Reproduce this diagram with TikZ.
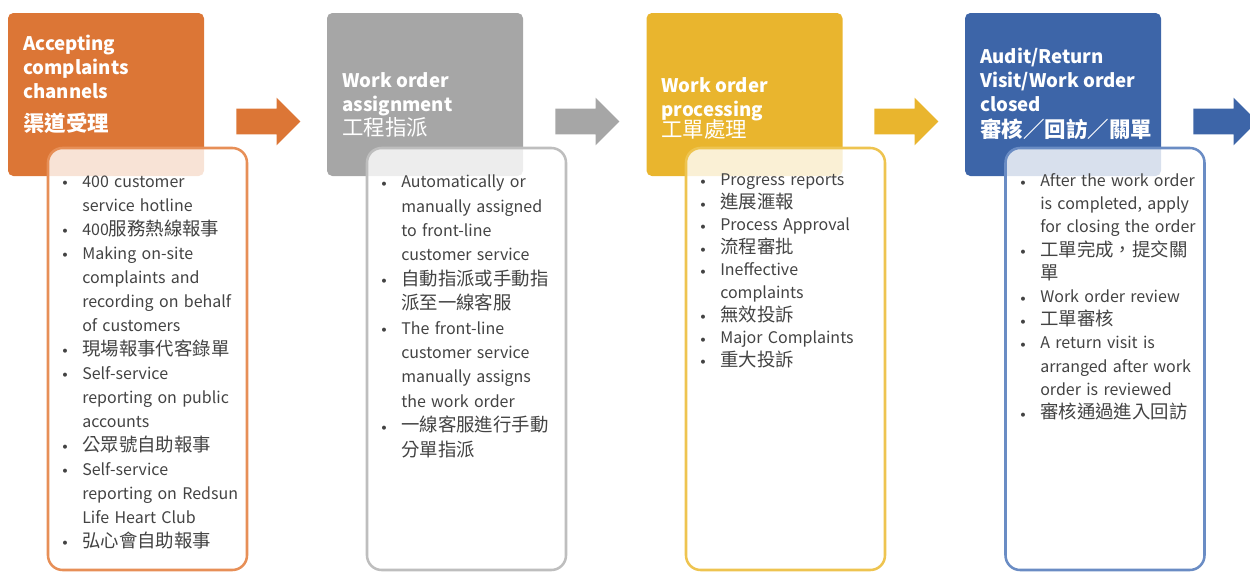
\documentclass[tikz,border=0pt]{standalone}
\usepackage{fontspec}
\setmainfont{Noto Sans CJK TC}
\newfontfamily\cjkfont{Noto Sans CJK TC}[Scale=1.15]
\usetikzlibrary{shapes.arrows}

\definecolor{stepone}{RGB}{220,118,54}
\definecolor{steponeline}{RGB}{231,143,87}
\definecolor{steptwo}{RGB}{166,166,166}
\definecolor{steptwoline}{RGB}{190,190,190}
\definecolor{stepthree}{RGB}{233,181,46}
\definecolor{stepthreeline}{RGB}{238,196,80}
\definecolor{stepfour}{RGB}{61,101,168}
\definecolor{stepfourline}{RGB}{106,140,196}
\definecolor{bodygray}{RGB}{67,67,67}

% one bullet item of a list box
\newcommand\bitem[1]{\par\noindent\hangindent=15pt\hangafter=1%
    \makebox[15pt][l]{\raisebox{1pt}{\scriptsize$\bullet$}}{\let\\\newline #1}}
% Chinese text
\newcommand\zh[1]{{\cjkfont #1}}

\begin{document}
\begin{tikzpicture}[
            x=0.75pt, y=-0.75pt,
            headbox/.style={
                rectangle,
                rounded corners=4pt,
                minimum width=147pt,
                minimum height=122.25pt,
                inner sep=0pt
            },
            listbox/.style={
                rectangle,
                rounded corners=11pt,
                line width=1.9pt,
                fill=white,
                fill opacity=0.8,
                minimum width=149.25pt,
                minimum height=316.5pt,
                inner sep=0pt
            },
            headtext/.style={
                anchor=north west,
                align=left,
                text=white,
                inner sep=0pt,
                font=\bfseries\fontsize{14pt}{18pt}\selectfont
            },
            listtext/.style={
                anchor=north west,
                text width=170pt,
                align=left,
                text=bodygray,
                inner sep=0pt
            },
            blockarrow/.style={
                single arrow,
                anchor=tail,
                single arrow head extend=8.25pt,
                minimum height=48pt,
                inner xsep=0pt,
                inner ysep=9.375pt
            }
        ]
        \useasboundingbox (0,0) rectangle (1250,572);
        \clip (0,0) rectangle (1250,572);

        % Coloured step boxes
        \node[headbox, fill=stepone] (h1) at (106,94.5) {};
        \node[headbox, fill=steptwo] (h2) at (425,94.5) {};
        \node[headbox, fill=stepthree] (h3) at (744.5,94.5) {};
        \node[headbox, fill=stepfour] (h4) at (1063,94.5) {};

        % List boxes, lying half over the step boxes
        \node[listbox, draw=steponeline] (l1) at (147.5,359) {};
        \node[listbox, draw=steptwoline] (l2) at (466.5,359) {};
        \node[listbox, draw=stepthreeline] (l3) at (785.5,359) {};
        \node[listbox, draw=stepfourline] (l4) at (1105,359) {};

        % Step titles
        \node[headtext] (t1) at (23,35) {Accepting\\complaints\\channels\\[6.75pt]\zh{渠道受理}};
        \node[headtext] (t2) at (342,72) {Work order\\assignment\\{\mdseries\zh{工程指派}}};
        \node[headtext] (t3) at (661,77) {Work order\\processing\\[-2.25pt]{\mdseries\zh{工單處理}}};
        \node[headtext] (t4) at (980,48) {Audit/Return\\Visit/Work order\\closed\\[1.5pt]\zh{審核／回訪／關單}};

        % Arrows between the steps
        \node[blockarrow, fill=stepone] (a1) at (236,121.5) {};
        \node[blockarrow, fill=steptwo] (a2) at (555,121.5) {};
        \node[blockarrow, fill=stepthree] (a3) at (874,121.5) {};
        \node[blockarrow, fill=stepfour] (a4) at (1193,121.5) {};

        % Items of list 1
        \node[listtext, font=\fontsize{12pt}{18pt}\selectfont] (i1) at (62,163) {%
            \bitem{400 customer\\service hotline}
            \bitem{400\zh{服務熱線報事}}
            \bitem{Making on-site\\complaints and\\recording on behalf\\of customers}
            \bitem{\zh{現場報事代客錄單}}
            \bitem{Self-service\\reporting on public\\accounts}
            \bitem{\zh{公眾號自助報事}}
            \bitem{Self-service\\reporting on Redsun\\Life Heart Club}
            \bitem{\zh{弘心會自助報事}}\par};

        % Items of list 2
        \node[listtext, font=\fontsize{12pt}{18.3pt}\selectfont] (i2) at (381,163) {%
            \bitem{Automatically or\\manually assigned\\to front-line\\customer service}
            \bitem{\zh{自動指派或手動指\\派至一線客服}}
            \bitem{The front-line\\customer service\\manually assigns\\the work order}
            \bitem{\zh{一線客服進行手動\\分單指派}}\par};

        % Items of list 3
        \node[listtext, font=\fontsize{12pt}{16.9pt}\selectfont] (i3) at (700,163) {%
            \bitem{Progress reports}
            \bitem{\zh{進展滙報}}
            \bitem{Process Approval}
            \bitem{\zh{流程審批}}
            \bitem{Ineffective\\complaints}
            \bitem{\zh{無效投訴}}
            \bitem{Major Complaints}
            \bitem{\zh{重大投訴}}\par};

        % Items of list 4
        \node[listtext, font=\fontsize{12pt}{17.4pt}\selectfont] (i4) at (1020,163) {%
            \bitem{After the work order\\is completed, apply\\for closing the order}
            \bitem{\zh{工單完成，提交關\\單}}
            \bitem{Work order review}
            \bitem{\zh{工單審核}}
            \bitem{A return visit is\\arranged after work\\order is reviewed}
            \bitem{\zh{審核通過進入回訪}}\par};

        \end{tikzpicture}
\end{document}
